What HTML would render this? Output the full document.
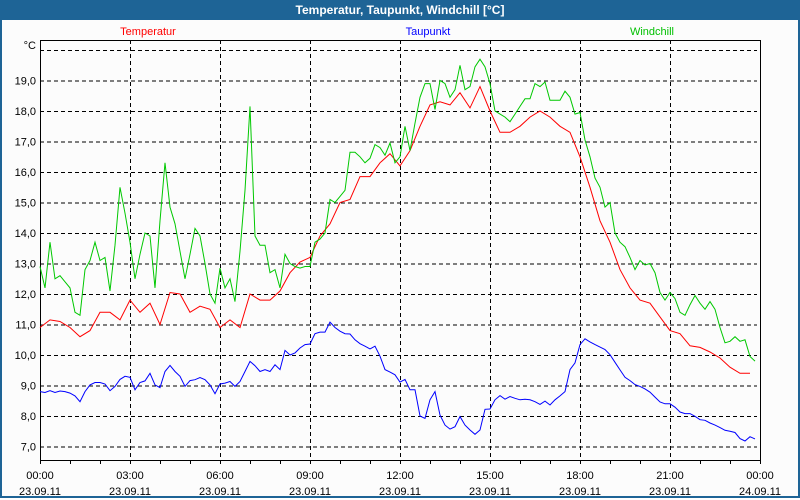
<!DOCTYPE html>
<html><head><meta charset="utf-8"><style>
body{margin:0;width:800px;height:500px;overflow:hidden;background:#fff;font-family:"Liberation Sans",sans-serif}
#win{position:absolute;left:0;top:0;width:796px;height:496px;border:2px solid #1e6496;border-top:none;background:#fcfcfc}
#title{position:absolute;left:0;top:0;width:800px;height:20px;background:#1e6496;color:#fff;font-weight:bold;font-size:12px;line-height:20px;text-align:center}
</style></head><body>
<div id="win"></div>
<div id="title">Temperatur, Taupunkt, Windchill [°C]</div>
<svg id="chart" width="800" height="500" style="position:absolute;left:0;top:0"></svg>
<script>
const yTicks=[7,8,9,10,11,12,13,14,15,16,17,18,19,20];
const xTickHours=[0,3,6,9,12,15,18,21,24];
const xTimeLabels=["00:00","03:00","06:00","09:00","12:00","15:00","18:00","21:00","00:00"];
const xDateLabels=["23.09.11","23.09.11","23.09.11","23.09.11","23.09.11","23.09.11","23.09.11","23.09.11","24.09.11"];
const seriesNames=["Temperatur","Taupunkt","Windchill"];
// temperature, every 20 minutes from 00:00
const temperatur=[10.9,11.15,11.1,10.9,10.6,10.8,11.4,11.4,11.15,11.8,
11.4,11.7,11.0,12.05,12.0,11.4,11.6,11.5,10.9,11.15,
10.9,12.0,11.8,11.8,12.1,12.7,13.05,13.2,13.9,14.3,
15.0,15.1,15.85,15.85,16.3,16.6,16.2,16.7,17.5,18.2,
18.3,18.2,18.6,18.1,18.8,18.0,17.3,17.3,17.5,17.8,
18.0,17.8,17.5,17.3,16.5,15.5,14.4,13.7,12.8,12.2,
11.8,11.7,11.25,10.8,10.7,10.3,10.25,10.1,9.9,9.6,
9.4,9.4];
// dew point, every 10 minutes
const taupunkt=[8.8,8.77,8.83,8.77,8.82,8.8,8.75,8.66,8.47,8.8,
9.02,9.1,9.1,9.05,8.83,8.97,9.2,9.3,9.27,8.86,
9.1,9.15,9.4,9.02,8.93,9.46,9.66,9.46,9.3,8.97,
9.16,9.19,9.26,9.19,9.02,8.73,9.05,9.08,9.13,8.97,
9.13,9.46,9.79,9.65,9.46,9.52,9.46,9.68,9.52,10.15,
10.0,10.07,10.23,10.34,10.36,10.7,10.75,10.75,11.08,10.9,
10.78,10.7,10.69,10.5,10.37,10.29,10.2,10.29,9.96,9.52,
9.44,9.35,9.11,9.2,8.86,8.86,8.0,7.92,8.53,8.8,
8.03,7.7,7.57,7.65,7.98,7.7,7.54,7.4,7.54,8.22,
8.23,8.53,8.67,8.55,8.64,8.58,8.53,8.55,8.53,8.47,
8.38,8.49,8.36,8.53,8.66,8.8,9.52,9.74,10.34,10.53,
10.43,10.34,10.26,10.18,10.01,9.76,9.51,9.27,9.16,9.03,
8.97,8.89,8.78,8.62,8.46,8.4,8.4,8.29,8.13,8.08,
8.08,7.99,7.88,7.86,7.77,7.7,7.62,7.53,7.5,7.46,
7.26,7.18,7.32,7.25];
// windchill, every 10 minutes
const windchill=[12.9,12.2,13.7,12.5,12.6,12.4,12.2,11.4,11.3,12.8,
13.1,13.7,13.1,13.2,12.1,13.6,15.5,14.65,13.7,12.5,
13.3,14.0,13.9,12.2,14.4,16.3,14.85,14.3,13.4,12.5,
13.3,14.15,13.9,13.0,12.0,11.7,12.85,12.2,12.5,11.75,
13.4,15.4,18.15,13.9,13.6,13.6,12.7,12.8,12.2,13.3,
13.0,12.9,12.85,12.9,12.9,13.7,13.8,14.0,15.1,15.0,
15.2,15.4,16.65,16.65,16.5,16.3,16.45,16.9,16.8,16.55,
16.95,16.3,16.5,17.5,16.7,17.6,18.45,18.9,18.9,18.05,
19.0,18.9,18.45,18.7,19.5,18.7,18.8,19.45,19.7,19.45,
18.9,18.0,17.9,17.8,17.65,17.9,18.15,18.4,18.4,18.9,
18.8,18.95,18.35,18.35,18.35,18.65,18.45,17.9,17.95,17.05,
16.5,15.8,15.5,14.85,15.0,14.0,13.7,13.55,13.2,12.8,
13.1,12.95,13.0,12.7,12.05,11.8,12.05,11.85,11.4,11.3,
11.65,11.95,11.7,11.5,11.75,11.5,10.9,10.4,10.45,10.6,
10.45,10.5,9.95,9.8];

const L=40,R=760,T=40,B=460;
const xS=h=>L+(h/24)*(R-L);
const yS=v=>446.5-(v-7)*30.5;
const svg=document.getElementById('chart');
const NS='http://www.w3.org/2000/svg';
function mk(tag,attrs){const e=document.createElementNS(NS,tag);for(const k in attrs)e.setAttribute(k,attrs[k]);svg.appendChild(e);return e;}

yTicks.forEach((v,i)=>{
  const g=mk('line',{x1:L,x2:757,y1:yS(v)+0.5,y2:yS(v)+0.5,stroke:'#000','stroke-dasharray':'4,3','stroke-width':1});
  
  
  if(v<20){
    const t=mk('text',{x:36,y:yS(v)+4,'text-anchor':'end','font-size':11,fill:'#000'});
    t.textContent=v.toFixed(1).replace('.',',');
    
    
  }
});
const unit=mk('text',{x:36,y:49,'text-anchor':'end','font-size':11,fill:'#000'});
unit.textContent='°C';



for(let h=0;h<=24;h++){
  const tk=mk('line',{x1:xS(h)+0.5,x2:xS(h)+0.5,y1:B,y2:B+4,stroke:'#000'});
  
  
}
xTickHours.forEach((h,i)=>{
  if(h>0&&h<24){
    const g=mk('line',{x1:xS(h)+0.5,x2:xS(h)+0.5,y1:T,y2:B,stroke:'#000','stroke-dasharray':'4,3'});
    
    
  }
  const t1=mk('text',{x:xS(h),y:479,'text-anchor':'middle','font-size':11,fill:'#000'});
  t1.textContent=xTimeLabels[i];
  
  
  const t2=mk('text',{x:xS(h),y:495,'text-anchor':'middle','font-size':11,fill:'#000'});
  t2.textContent=xDateLabels[i];
  
  
});
const frame=mk('rect',{x:L+0.5,y:T+0.5,width:R-L,height:B-T,fill:'none',stroke:'#000'});



function line(arr,stepH,color,name){
  const pts=arr.map((v,i)=>xS(i*stepH).toFixed(1)+','+yS(v).toFixed(1)).join(' ');
  const p=mk('polyline',{points:pts,fill:'none',stroke:color,'stroke-width':1});
  
  
}
line(taupunkt,1/6,'#0000ff','taupunkt-line');
line(temperatur,1/3,'#ff0000','temperatur-line');
line(windchill,1/6,'#00c800','windchill-line');

const legX=[148,428,652],legC=['#ff0000','#0000ff','#00c000'];
seriesNames.forEach((n,i)=>{
  const t=mk('text',{x:legX[i],y:35,'text-anchor':'middle','font-size':11,fill:legC[i]});
  t.textContent=n;
  
  
});
</script>
</body></html>
